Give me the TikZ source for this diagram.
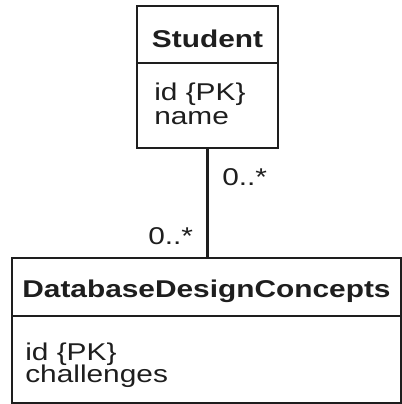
\documentclass[tikz,border=0pt]{standalone}
\usepackage{fontspec}
\setmainfont[FakeStretch=1.23]{Liberation Sans}
\usetikzlibrary{fit}
\definecolor{ink}{HTML}{1E1E1E}
\begin{document}
\begin{tikzpicture}[x=0.75pt,y=-0.75pt,
  box/.style={draw=ink, line width=1.75pt, inner sep=0pt},
  attr/.style={inner sep=0pt, anchor=base west, text=ink, font=\fontsize{18.2}{18}\selectfont},
  title/.style={inner sep=0pt, anchor=base, text=ink, font=\fontsize{18.2}{18}\selectfont\bfseries},
  mult/.style={inner sep=0pt, anchor=base west, text=ink, font=\fontsize{18.2}{18}\selectfont}]
  \fill[white] (0,0) rectangle (402,404);
  \useasboundingbox (0,0) rectangle (402,404);

  % Student class
  \node[box, fit={(137,6) (278,63)}] (stuHead) {};
  \node[box, fit={(137,63) (278,148)}] (stuBody) {};
  \node[title] (stuName) at (207.5,47) {Student};
  \node[attr] (stuId) at (154,100) {id \{PK\}};
  \node[attr] (stuNm) at (154,124) {name};

  % DatabaseDesignConcepts class
  \node[box, fit={(12,258) (401,316)}] (ddcHead) {};
  \node[box, fit={(12,316) (401,403)}] (ddcBody) {};
  \node[title] (ddcName) at (206.5,297) {DatabaseDesignConcepts};
  \node[attr] (ddcId) at (25,360.5) {id \{PK\}};
  \node[attr] (ddcCh) at (25,382.5) {challenges};

  % association with multiplicities
  \draw[draw=ink, line width=1.75pt] (stuBody.south) -- (stuBody.south |- ddcHead.north);
  \node[mult] (multTop) at (222,185.7) {0..*};
  \node[mult] (multBot) at (148,244) {0..*};
\end{tikzpicture}
\end{document}
